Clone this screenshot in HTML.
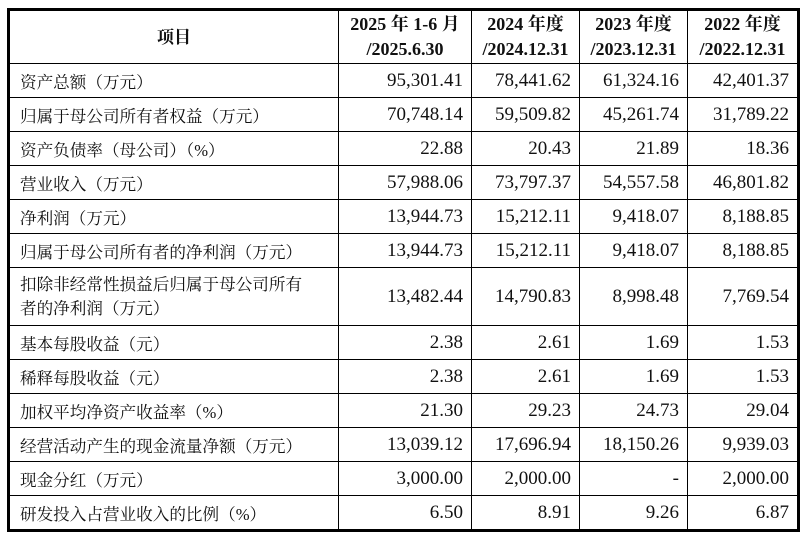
<!DOCTYPE html>
<html><head><meta charset="utf-8"><style>
body{margin:0;width:802px;height:539px;background:#fff;overflow:hidden;font-family:"Liberation Serif","Noto Serif CJK SC",serif;color:#111}
table{position:absolute;left:7px;top:8px;border-collapse:collapse;border:3px solid #000;table-layout:fixed}
td{border:1px solid #000;font-size:19px;padding:0 8px;height:33px;text-align:right;white-space:nowrap;overflow:hidden}
td:first-child{text-align:left;padding-left:10px;font-size:16.6px}
tr.h td{font-weight:bold;text-align:center;height:52px;line-height:25px;padding:0;font-size:18px}
tr.d td{height:57px;line-height:24px}
</style></head><body>
<table>
<colgroup><col style="width:330px"><col style="width:133px"><col style="width:108px"><col style="width:108px"><col style="width:111px"></colgroup>
<tr class="h"><td style="text-align:center;padding:0;font-size:17px">项目</td><td>2025 年 1-6 月<br>/2025.6.30</td><td>2024 年度<br>/2024.12.31</td><td>2023 年度<br>/2023.12.31</td><td>2022 年度<br>/2022.12.31</td></tr>
<tr><td>资产总额（万元）</td><td>95,301.41</td><td>78,441.62</td><td>61,324.16</td><td>42,401.37</td></tr>
<tr><td>归属于母公司所有者权益（万元）</td><td>70,748.14</td><td>59,509.82</td><td>45,261.74</td><td>31,789.22</td></tr>
<tr><td>资产负债率（母公司）（%）</td><td>22.88</td><td>20.43</td><td>21.89</td><td>18.36</td></tr>
<tr><td>营业收入（万元）</td><td>57,988.06</td><td>73,797.37</td><td>54,557.58</td><td>46,801.82</td></tr>
<tr><td>净利润（万元）</td><td>13,944.73</td><td>15,212.11</td><td>9,418.07</td><td>8,188.85</td></tr>
<tr><td>归属于母公司所有者的净利润（万元）</td><td>13,944.73</td><td>15,212.11</td><td>9,418.07</td><td>8,188.85</td></tr>
<tr class="d"><td>扣除非经常性损益后归属于母公司所有<br>者的净利润（万元）</td><td>13,482.44</td><td>14,790.83</td><td>8,998.48</td><td>7,769.54</td></tr>
<tr><td>基本每股收益（元）</td><td>2.38</td><td>2.61</td><td>1.69</td><td>1.53</td></tr>
<tr><td>稀释每股收益（元）</td><td>2.38</td><td>2.61</td><td>1.69</td><td>1.53</td></tr>
<tr><td>加权平均净资产收益率（%）</td><td>21.30</td><td>29.23</td><td>24.73</td><td>29.04</td></tr>
<tr><td>经营活动产生的现金流量净额（万元）</td><td>13,039.12</td><td>17,696.94</td><td>18,150.26</td><td>9,939.03</td></tr>
<tr><td>现金分红（万元）</td><td>3,000.00</td><td>2,000.00</td><td>-</td><td>2,000.00</td></tr>
<tr><td>研发投入占营业收入的比例（%）</td><td>6.50</td><td>8.91</td><td>9.26</td><td>6.87</td></tr>
</table>
</body></html>
